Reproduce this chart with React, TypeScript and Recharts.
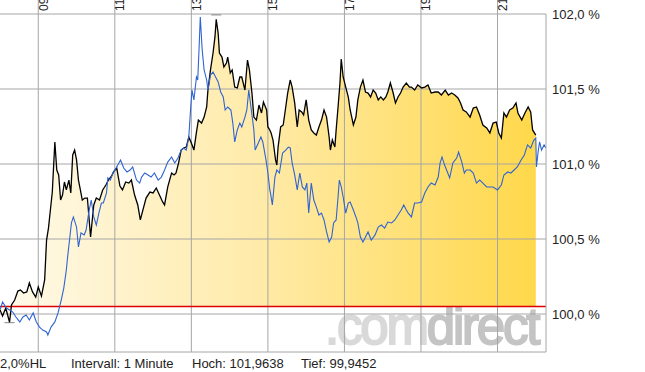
import { ComposedChart, Area, Line, XAxis, YAxis, ReferenceLine } from 'recharts';

// minutes since 08:00, value in %
const blackSeries: [number, number][] = [
  [0, 100.027], [4, 99.987], [9, 100.04], [15, 99.945], [18, 100.06], [23, 100.093], [28, 100.153], [32, 100.16],
  [37, 100.14], [42, 100.147], [46, 100.207], [51, 100.147], [56, 100.113], [60, 100.18], [65, 100.12], [70, 100.227],
  [73, 100.493], [76, 100.573], [79, 100.693], [82, 100.813], [86, 101.147], [89, 100.96], [92, 100.927], [95, 100.76],
  [98, 100.793], [101, 100.88], [104, 100.827], [108, 100.893], [111, 100.807], [114, 101.06], [117, 101.093], [120, 101.027],
  [123, 100.893], [126, 100.827], [129, 100.76], [133, 100.773], [137, 100.773], [142, 100.513], [147, 100.727], [151, 100.773],
  [156, 100.76], [161, 100.827], [166, 100.86], [170, 100.893], [175, 100.92], [178, 100.947], [183, 100.973], [188, 100.853],
  [192, 100.827], [197, 100.88], [202, 100.873], [206, 100.893], [211, 100.793], [216, 100.727], [220, 100.627], [224, 100.693],
  [229, 100.773], [235, 100.813], [240, 100.807], [245, 100.84], [250, 100.793], [255, 100.747], [258, 100.727], [263, 100.847],
  [269, 100.94], [273, 100.927], [276, 100.94], [280, 101.007], [284, 101.093], [288, 101.107], [292, 101.113], [296, 101.18],
  [300, 101.14], [304, 101.093], [308, 101.213], [311, 101.293], [316, 101.273], [320, 101.313], [324, 101.38], [326, 101.493],
  [330, 101.627], [334, 101.74], [337, 101.847], [339, 101.964], [342, 101.873], [344, 101.74], [348, 101.713], [351, 101.647],
  [355, 101.673], [357, 101.713], [361, 101.607], [364, 101.627], [368, 101.513], [372, 101.507], [376, 101.58], [379, 101.58],
  [384, 101.493], [388, 101.693], [391, 101.627], [395, 101.473], [398, 101.313], [402, 101.293], [406, 101.393], [410, 101.34],
  [413, 101.413], [418, 101.36], [420, 101.247], [423, 101.227], [425, 101.207], [428, 101.16], [432, 101.027], [434, 100.993],
  [436, 101.113], [440, 101.247], [444, 101.26], [448, 101.38], [451, 101.473], [455, 101.56], [458, 101.513], [462, 101.407],
  [466, 101.247], [469, 101.36], [473, 101.347], [476, 101.327], [480, 101.427], [484, 101.293], [488, 101.227], [492, 101.207],
  [496, 101.193], [500, 101.247], [504, 101.293], [508, 101.36], [512, 101.313], [516, 101.18], [518, 101.093], [521, 101.16],
  [525, 101.113], [527, 101.227], [530, 101.38], [533, 101.54], [535, 101.7], [538, 101.58], [542, 101.513], [546, 101.447],
  [549, 101.36], [554, 101.26], [558, 101.313], [561, 101.427], [565, 101.513], [569, 101.56], [573, 101.48], [577, 101.473],
  [581, 101.447], [585, 101.493], [589, 101.473], [593, 101.427], [597, 101.447], [601, 101.427], [605, 101.447], [608, 101.48],
  [612, 101.54], [616, 101.48], [620, 101.407], [624, 101.447], [628, 101.473], [632, 101.513], [637, 101.54], [642, 101.513],
  [645, 101.513], [650, 101.493], [655, 101.527], [661, 101.507], [666, 101.513], [671, 101.527], [676, 101.473], [682, 101.48],
  [687, 101.48], [692, 101.46], [698, 101.493], [703, 101.46], [708, 101.473], [713, 101.46], [718, 101.44], [722, 101.407],
  [726, 101.36], [731, 101.347], [737, 101.313], [742, 101.373], [747, 101.38], [752, 101.327], [757, 101.26], [763, 101.24],
  [768, 101.207], [773, 101.273], [778, 101.28], [782, 101.207], [786, 101.173], [790, 101.34], [794, 101.313], [799, 101.36],
  [804, 101.373], [809, 101.407], [812, 101.34], [818, 101.293], [823, 101.34], [828, 101.38], [832, 101.347], [835, 101.227],
  [840, 101.193],
];

const blueSeries: [number, number][] = [
  [0, 100.027], [4, 100.08], [10, 100.04], [15, 100.027], [20, 100.013], [25, 99.98], [31, 99.947], [36, 99.98],
  [41, 99.993], [46, 99.96], [52, 100.007], [57, 99.947], [62, 99.913], [67, 99.893], [73, 99.88], [75, 99.86],
  [80, 99.913], [86, 99.947], [91, 100.007], [96, 100.093], [100, 100.173], [104, 100.293], [106, 100.38], [109, 100.493],
  [112, 100.607], [115, 100.647], [120, 100.58], [123, 100.447], [127, 100.54], [132, 100.527], [135, 100.56], [139, 100.673],
  [143, 100.76], [147, 100.647], [151, 100.593], [155, 100.673], [159, 100.74], [162, 100.74], [167, 100.807], [169, 100.907],
  [173, 100.893], [177, 100.94], [182, 100.973], [189, 101.027], [194, 100.973], [199, 100.947], [204, 100.96], [208, 100.98],
  [214, 100.893], [219, 100.873], [222, 100.913], [227, 100.94], [232, 100.927], [237, 100.913], [242, 100.94], [248, 100.893],
  [253, 100.913], [258, 100.96], [263, 101.013], [269, 101.047], [274, 101.007], [279, 101.04], [284, 101.093], [288, 101.107],
  [292, 101.093], [296, 101.18], [299, 101.38], [301, 101.493], [304, 101.427], [308, 101.58], [310, 101.56], [312, 101.76],
  [314, 101.98], [317, 101.76], [320, 101.627], [324, 101.56], [326, 101.493], [330, 101.593], [334, 101.613], [338, 101.58],
  [342, 101.547], [346, 101.48], [350, 101.447], [353, 101.36], [357, 101.38], [362, 101.36], [365, 101.273], [368, 101.147],
  [372, 101.227], [376, 101.273], [379, 101.247], [384, 101.313], [387, 101.36], [390, 101.493], [394, 101.36], [398, 101.227],
  [400, 101.093], [405, 101.14], [409, 101.18], [412, 101.147], [417, 101.027], [420, 100.94], [423, 100.827], [424, 100.807],
  [427, 100.727], [431, 100.913], [434, 100.96], [438, 100.94], [443, 101.073], [448, 101.093], [452, 101.113], [455, 101.107],
  [458, 101.007], [462, 100.927], [466, 100.827], [470, 100.94], [474, 100.847], [478, 100.827], [481, 100.873], [484, 100.673],
  [488, 100.873], [492, 100.76], [496, 100.713], [500, 100.66], [504, 100.673], [508, 100.627], [512, 100.547], [516, 100.48],
  [520, 100.513], [523, 100.607], [527, 100.627], [530, 100.78], [532, 100.893], [535, 100.847], [538, 100.78], [542, 100.673],
  [546, 100.74], [549, 100.747], [554, 100.693], [558, 100.647], [561, 100.607], [565, 100.513], [569, 100.48], [573, 100.513],
  [577, 100.547], [582, 100.493], [588, 100.527], [593, 100.58], [598, 100.593], [603, 100.573], [608, 100.613], [614, 100.607],
  [619, 100.627], [624, 100.66], [629, 100.693], [633, 100.727], [637, 100.693], [640, 100.673], [645, 100.647], [650, 100.74],
  [655, 100.74], [661, 100.747], [666, 100.807], [671, 100.847], [676, 100.873], [682, 100.86], [687, 100.913], [690, 101.007],
  [693, 101.047], [697, 100.993], [702, 100.94], [705, 100.907], [710, 101.007], [716, 101.04], [719, 101.08], [724, 101.013],
  [728, 100.94], [731, 100.96], [737, 100.96], [742, 100.94], [747, 100.873], [752, 100.893], [757, 100.873], [763, 100.847],
  [768, 100.847], [773, 100.847], [780, 100.827], [786, 100.86], [790, 100.927], [796, 100.947], [801, 100.94], [806, 100.96],
  [811, 100.98], [817, 101.027], [822, 101.06], [827, 101.127], [832, 101.107], [837, 101.16], [840, 101.173], [841, 100.98],
  [844, 101.093], [846, 101.147], [849, 101.093], [853, 101.127], [856, 101.107],
];

const hourTicks = [60, 180, 300, 420, 540, 660, 780];
const pctTicks = [100.0, 100.5, 101.0, 101.5, 102.0];
const prevClose = 100.05;
const high = { t: 339, v: 101.9638 };
const low = { t: 15, v: 99.9452 };
const footerTexts = ['2,0%HL', 'Intervall: 1 Minute', 'Hoch: 101,9638', 'Tief: 99,9452'];

const FONT = "'Liberation Sans', Arial, sans-serif";
const GRID = '#a6a6a6';
const Y_MIN = 99.7467;
const X_MAX = 856;

const blackData = blackSeries.map(([t, v]) => ({ t, v }));
const blueData = blueSeries.map(([t, v]) => ({ t, v }));

function HourTick({ x, payload }: any) {
  const label = String(8 + payload.value / 60).padStart(2, '0');
  const ax = x + 9.5;
  return (
    <text x={ax} y={11} transform={`rotate(-90 ${ax} 11)`} fontSize={12} fill="#222" fontFamily={FONT}>
      {label}
    </text>
  );
}

const fmtPct = (v: number) => v.toFixed(1).replace('.', ',') + ' %';

export default function App() {
  const footerLeft = [0, 71, 192, 301];
  return (
    <div style={{ position: 'absolute', left: 0, top: 0, width: 645, height: 372, background: '#fff', overflow: 'hidden' }}>
      <svg width={645} height={372} style={{ position: 'absolute', left: 0, top: 0 }}>
        <text x={325} y={344} fontFamily={FONT} fontSize={51} letterSpacing={-2.2} strokeWidth={2}>
          <tspan fill="#d9d9d9" stroke="#d9d9d9">.com</tspan>
          <tspan fill="#c4c4c4" stroke="#c4c4c4">direct</tspan>
        </text>
      </svg>
      <div style={{ position: 'absolute', left: 0, top: 0 }}>
        <ComposedChart width={645} height={372} margin={{ top: 0, right: 0, left: 0, bottom: 20 }}>
          <defs>
            <linearGradient id="goldFill" x1="0" y1="0" x2="1" y2="0">
              <stop offset="0%" stopColor="#fffaea" />
              <stop offset="50%" stopColor="#ffeaa6" />
              <stop offset="100%" stopColor="#ffd84a" />
            </linearGradient>
          </defs>
          <XAxis
            xAxisId={0}
            type="number"
            dataKey="t"
            orientation="top"
            height={14}
            domain={[0, X_MAX]}
            allowDataOverflow
            ticks={hourTicks}
            tickSize={14}
            stroke={GRID}
            axisLine={false}
            tick={<HourTick />}
          />
          <YAxis
            yAxisId={0}
            orientation="right"
            width={99}
            domain={[Y_MIN, 102]}
            allowDataOverflow
            ticks={pctTicks}
            tickFormatter={fmtPct}
            tickLine={false}
            tickSize={0}
            tickMargin={6}
            stroke={GRID}
            tick={{ fill: '#222', fontSize: 13, fontFamily: FONT }}
          />
          <Area
            data={blackData}
            dataKey="v"
            type="linear"
            baseValue={prevClose}
            stroke="none"
            fill="url(#goldFill)"
            fillOpacity={1}
            isAnimationActive={false}
            dot={false}
            activeDot={false}
          />
          {pctTicks.map((v) => (
            <ReferenceLine key={`h${v}`} y={v} stroke={GRID} />
          ))}
          {hourTicks.map((t) => (
            <ReferenceLine key={`v${t}`} x={t} stroke={GRID} />
          ))}
          <ReferenceLine y={Y_MIN} stroke={GRID} />
          <ReferenceLine y={prevClose} stroke="#dd0000" strokeWidth={1.5} />
          <ReferenceLine
            segment={[{ x: high.t - 8, y: high.v + 0.03 }, { x: high.t + 8, y: high.v + 0.03 }]}
            stroke="#888"
          />
          <ReferenceLine
            segment={[{ x: low.t - 8, y: low.v - 0.003 }, { x: low.t + 8, y: low.v - 0.003 }]}
            stroke="#888"
          />
          <Line
            data={blackData}
            dataKey="v"
            type="linear"
            stroke="#000"
            strokeWidth={1.3}
            dot={false}
            activeDot={false}
            isAnimationActive={false}
          />
          <Line
            data={blueData}
            dataKey="v"
            type="linear"
            stroke="#2f64d2"
            strokeWidth={1.1}
            dot={false}
            activeDot={false}
            isAnimationActive={false}
          />
        </ComposedChart>
      </div>
      {footerTexts.map((txt, i) => (
        <div
          key={txt}
          style={{
            position: 'absolute',
            left: footerLeft[i],
            top: 356,
            fontFamily: FONT,
            fontSize: 13,
            lineHeight: '15px',
            color: '#222',
            whiteSpace: 'nowrap',
          }}
        >
          {txt}
        </div>
      ))}
    </div>
  );
}
